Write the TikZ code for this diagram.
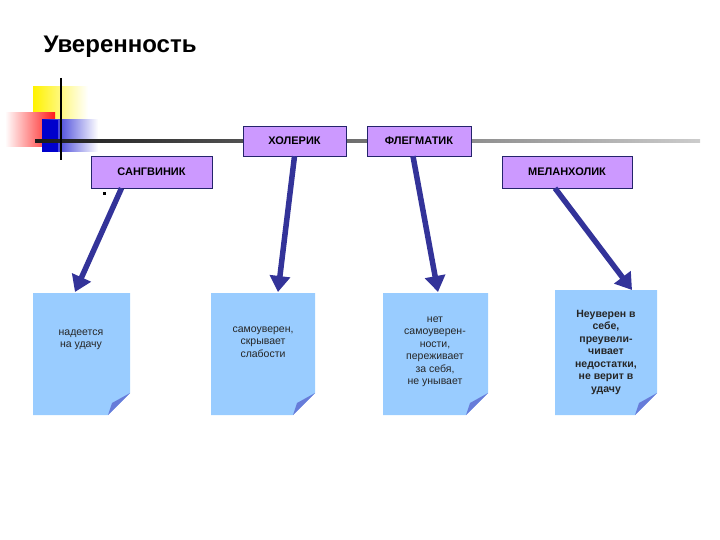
\documentclass[tikz,border=0pt]{standalone}
\usepackage{fontspec}
\setmainfont{Liberation Sans}
\usetikzlibrary{arrows.meta,shadings}
\definecolor{typ}{HTML}{CC99FF}
\definecolor{note}{HTML}{99CCFF}
\definecolor{arr}{HTML}{333399}
\tikzset{
 typebox/.style={draw=arr!70!black,fill=typ,font=\bfseries\fontsize{11}{13}\selectfont,inner sep=0pt},
 notetxt/.style={align=center,font=\fontsize{10.5}{12.5}\selectfont,text=black!85},
 bigarrow/.style={draw=arr,line width=5.5pt,-{Triangle[length=16pt,width=20pt]}}
}
\begin{document}
\begin{tikzpicture}[x=1pt,y=-1pt]
\useasboundingbox (0,0) rectangle (720,540);
% decoration
\fill[left color=yellow!90!orange,right color=white] (33,87) rectangle (88,120);
\fill[left color=white,right color=red!90] (5,113) rectangle (55,147);
\fill[left color=blue!80!black,right color=white] (42,120) rectangle (98,152);
\fill[blue!80!black] (42,120) rectangle (58,152);
\shade[left color=black!90,right color=black!20] (35,140) rectangle (700,142.5);
\draw[line width=2pt] (61,78) -- (61,160);
\node[anchor=west,font=\bfseries\fontsize{24}{28}\selectfont] (title) at (40,47) {Уверенность};
% type boxes
\node[typebox,minimum width=103pt,minimum height=30pt] (hol) at (294.5,141) {ХОЛЕРИК};
\node[typebox,minimum width=104pt,minimum height=30pt] (fle) at (419,141) {ФЛЕГМАТИК};
\node[typebox,minimum width=121pt,minimum height=32pt] (san) at (151.5,172) {САНГВИНИК};
\node[typebox,minimum width=130pt,minimum height=32pt] (mel) at (567,172) {МЕЛАНХОЛИК};
\fill (103,192) rectangle (106,195);
% notes
\foreach \n/\xa/\ya/\xb/\yb in {n1/33/293/130/415, n2/211/293/315/415, n3/383/293/488/415, n4/555/290/657/415}{
  \fill[note] (\xa,\ya) -- (\xb,\ya) -- (\xb,\yb-22) -- (\xb-22,\yb) -- (\xa,\yb) -- cycle;
  \fill[note!60!blue!70!gray] (\xb,\yb-22) -- (\xb-18,\yb-12) -- (\xb-22,\yb) -- cycle;
  \coordinate (\n) at ({(\xa+\xb)/2},\ya);
}
\node[notetxt] (t1) at (81,340) {надеется\\на удачу};
\node[notetxt] (t2) at (263,342) {самоуверен,\\скрывает\\слабости};
\node[notetxt] (t3) at (435,352) {нет\\самоуверен-\\ности,\\переживает\\за себя,\\не унывает};
\node[notetxt,font=\bfseries\fontsize{10.5}{12.5}\selectfont] (t4) at (606,352) {Неуверен в\\себе,\\преувели-\\чивает\\недостатки,\\не верит в\\удачу};
% arrows
\coordinate (a1) at (75,292); \coordinate (a2) at (278,292);
\coordinate (a3) at (438,292); \coordinate (a4) at (632,290);
\draw[bigarrow] (san.south) ++(-30,0) -- (a1);
\draw[bigarrow] (hol.south) -- (a2);
\draw[bigarrow] (fle.south) ++(-6,0) -- (a3);
\draw[bigarrow] (mel.south) ++(-12,0) -- (a4);
\end{tikzpicture}
\end{document}
